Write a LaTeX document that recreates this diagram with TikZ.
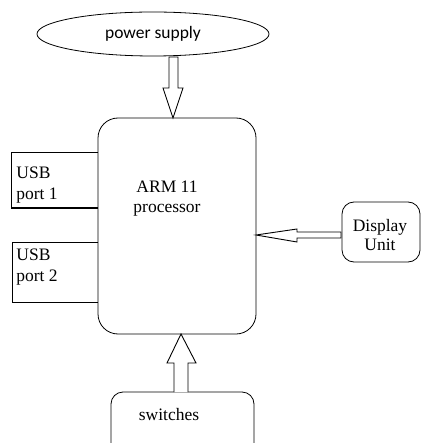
\documentclass[tikz,border=0pt]{standalone}
\usepackage{fontspec}
\setmainfont{Liberation Serif}
\newfontfamily\calib{Carlito}
\usetikzlibrary{shapes.geometric}
\begin{document}
\begin{tikzpicture}[x=1pt,y=-1pt,
  line width=0.8pt,
  txt/.style={font=\fontsize{17.5}{21}\selectfont, inner sep=0pt, align=center},
  blk/.style={draw=black, fill=white, line width=0.9pt}]
\useasboundingbox (0,0) rectangle (421,443);
% power supply
\node[draw, ellipse, minimum width=232, minimum height=44, inner sep=0pt,
  font=\calib\fontsize{17.5}{21}\selectfont] (ps) at (153,34) {power supply};
% main box
\draw[rounded corners=20] (98,118) rectangle (256,334);
\node[txt, font=\fontsize{17.5}{20}\selectfont, anchor=base] (arm) at (167,212) {ARM 11\\processor};
% USB ports
\draw[line width=1pt] (98,153) -- (11,153) -- (11,208) -- (98,208);
\node[txt, align=left, anchor=base west] (usb1) at (16,200) {USB\\port 1};
\draw[line width=1pt] (98,242) -- (12,242) -- (12,302) -- (98,302);
\node[txt, align=left, anchor=base west] (usb2) at (16,281) {USB\\port 2};
% display unit
\draw[rounded corners=12] (342,202) rectangle (420,262);
\node[txt, font=\fontsize{17.5}{18.5}\selectfont, anchor=base] (disp) at (380,250) {Display\\Unit};
% switches
\draw[rounded corners=12] (111,443) -- (111,392) -- (254,392) -- (254,443);
\node[txt, anchor=base] (sw) at (169,420) {switches};
% power arrow
\draw[blk] (169,57) -- (178,57) -- (178,88) -- (183,88) -- (173,118) -- (163,88) -- (169,88) -- cycle;
% display arrow
\draw[blk] (341,232) -- (297,232) -- (297,229) -- (256,235) -- (297,242) -- (297,238) -- (341,238) -- cycle;
% switches arrow
\draw[blk] (174,392) -- (174,363) -- (167,363) -- (181,334) -- (196,363) -- (188,363) -- (188,392);
\end{tikzpicture}
\end{document}
